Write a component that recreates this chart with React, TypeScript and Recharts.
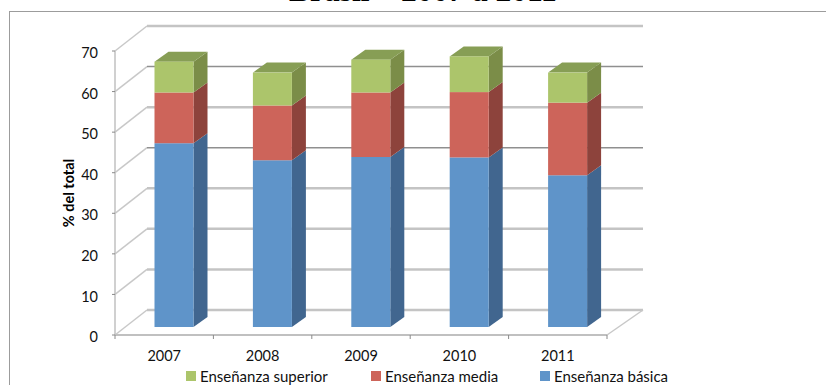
import { BarChart, Bar, XAxis, YAxis, CartesianGrid, Legend } from 'recharts';

const YEARS = ['2007', '2008', '2009', '2010', '2011'];
const BASICA = [45.3, 41.1, 41.9, 41.8, 37.4];
const MEDIA = [12.5, 13.5, 15.9, 16.1, 17.9];
const SUPERIOR = [7.6, 8.1, 8.1, 8.8, 7.4];
const Y_TICKS = [0, 10, 20, 30, 40, 50, 60, 70];

const chartData = YEARS.map((year, i) => ({
  year,
  basica: BASICA[i],
  media: MEDIA[i],
  superior: SUPERIOR[i],
}));

const FONT = 'Lato, "Open Sans", sans-serif';
const PLOT_LEFT = 115;
const PLOT_RIGHT = 607;
const BAND = (PLOT_RIGHT - PLOT_LEFT) / YEARS.length;

// pseudo-3D offsets: wall depth and bar depth
const WALL_DX = 32;
const WALL_DY = -25;
const BAR_DX = 14;
const BAR_DY = -10;
// bars stand on the middle of the floor, not on the front edge
const BAR_SHIFT_X = 9.5;
const BAR_SHIFT_Y = -8;

/* alternating line tones by tick value */
const DARK_GRID = [60, 40];

function Box3D(props: any) {
  const { x, y, width, height, front, side, top } = props;
  const l = x + BAR_SHIFT_X;
  const t = y + BAR_SHIFT_Y;
  const r = l + width;
  const b = t + height;
  return (
    <g>
      <polygon
        points={`${r},${t} ${r + BAR_DX},${t + BAR_DY} ${r + BAR_DX},${b + BAR_DY} ${r},${b}`}
        fill={side}
      />
      {top && (
        <polygon
          points={`${l},${t} ${l + BAR_DX},${t + BAR_DY} ${r + BAR_DX},${t + BAR_DY} ${r},${t}`}
          fill={top}
        />
      )}
      <rect x={l} y={t} width={width} height={height} fill={front} />
    </g>
  );
}

function GridLine(props: any) {
  const { x1, y1, x2, index } = props;
  const value = Y_TICKS[index];
  const dark = DARK_GRID.includes(value);
  return (
    <g fill="none">
      <line
        x1={x1}
        y1={y1}
        x2={x1 + WALL_DX}
        y2={y1 + WALL_DY}
        stroke="#c8c8c8"
        strokeWidth={1.5}
      />
      <line
        x1={x1 + WALL_DX}
        y1={y1 + WALL_DY}
        x2={x2 + WALL_DX + 4}
        y2={y1 + WALL_DY}
        stroke={dark ? '#8f8f8f' : '#c4c4c4'}
        strokeWidth={dark ? 1.5 : 2.5}
      />
      {value === 0 && (
        <line
          x1={x2}
          y1={y1}
          x2={x2 + WALL_DX + 4}
          y2={y1 + WALL_DY}
          stroke="#c8c8c8"
          strokeWidth={1.5}
        />
      )}
    </g>
  );
}

function YearTick(props: any) {
  const { x, y, payload, index } = props;
  const left = x - BAND / 2;
  return (
    <g>
      <line x1={left} y1={y - 8} x2={left} y2={y - 4} stroke="#8a8a8a" />
      {index === YEARS.length - 1 && (
        <line x1={left + BAND} y1={y - 8} x2={left + BAND} y2={y - 4} stroke="#8a8a8a" />
      )}
      <text x={x} y={y + 18} textAnchor="middle" fontSize={14.5} fontFamily={FONT} fill="#111">
        {payload.value}
      </text>
    </g>
  );
}

function LegendRow({ payload }: any) {
  const items = [...(payload ?? [])].reverse();
  const lefts = [186, 371, 540];
  return (
    <div style={{ position: 'relative', height: 16, fontFamily: FONT, fontSize: 15, color: '#111' }}>
      {items.map((item: any, i: number) => (
        <div key={item.value} style={{ position: 'absolute', left: lefts[i], top: 0, whiteSpace: 'nowrap' }}>
          <span
            style={{
              display: 'inline-block',
              width: 10,
              height: 10,
              marginRight: 4,
              marginBottom: 1,
              background: item.color,
            }}
          />
          {item.value}
        </div>
      ))}
    </div>
  );
}

export default function App() {
  return (
    <div style={{ position: 'absolute', left: 0, top: 0, width: 826, height: 385, overflow: 'hidden', background: '#fff' }}>
      {/* chart frame, open on the right and bottom */}
      <div
        style={{
          position: 'absolute',
          left: 9,
          top: 11,
          width: 840,
          height: 400,
          border: '1.5px solid #9c9c9c',
        }}
      />
      <div
        style={{
          position: 'absolute',
          left: 0,
          width: 846,
          top: -24,
          textAlign: 'center',
          fontFamily: '"Liberation Serif", serif',
          fontWeight: 'bold',
          fontSize: 31.5,
          lineHeight: '30px',
          color: '#000',
        }}
      >
        Brasil – 2007 a 2011
      </div>
      <BarChart
        width={826}
        height={385}
        data={chartData}
        margin={{ top: 51, right: 219, bottom: 20, left: 0 }}
        style={{ position: 'absolute', left: 0, top: 0 }}
      >
        <CartesianGrid vertical={false} horizontal={(p: any) => <GridLine {...p} />} />
        <XAxis
          dataKey="year"
          height={30}
          axisLine={{ stroke: '#c0c0c0', strokeWidth: 2 }}
          tickLine={false}
          tick={(p: any) => <YearTick {...p} />}
          interval={0}
        />
        <YAxis
          width={115}
          domain={[0, 70]}
          ticks={Y_TICKS}
          axisLine={{ stroke: '#c0c0c0', strokeWidth: 1.5 }}
          tickLine={{ stroke: '#8a8a8a' }}
          tickSize={3}
          tickMargin={14}
          tick={{ fontFamily: FONT, fontSize: 14.5, fill: '#111', dy: 2 }}
          label={{
            value: '% del total',
            angle: -90,
            position: 'insideLeft',
            offset: 69,
            style: { fontFamily: FONT, fontSize: 14.5, fontWeight: 700, fill: '#000', textAnchor: 'middle' },
          }}
        />
        <Legend
          layout="horizontal"
          verticalAlign="middle"
          wrapperStyle={{ left: 0, top: 367, width: 826 }}
          content={<LegendRow />}
        />
        <Bar
          dataKey="basica"
          name="Enseñanza básica"
          stackId="a"
          barSize={39}
          fill="#5f94c9"
          isAnimationActive={false}
          shape={(p: any) => <Box3D {...p} front="#5f94c9" side="#41668f" />}
        />
        <Bar
          dataKey="media"
          name="Enseñanza media"
          stackId="a"
          barSize={39}
          fill="#cd645a"
          isAnimationActive={false}
          shape={(p: any) => <Box3D {...p} front="#cd645a" side="#8d433c" />}
        />
        <Bar
          dataKey="superior"
          name="Enseñanza superior"
          stackId="a"
          barSize={39}
          fill="#acc56b"
          isAnimationActive={false}
          shape={(p: any) => <Box3D {...p} front="#acc56b" side="#7b8d48" top="#879e55" />}
        />
      </BarChart>
    </div>
  );
}
